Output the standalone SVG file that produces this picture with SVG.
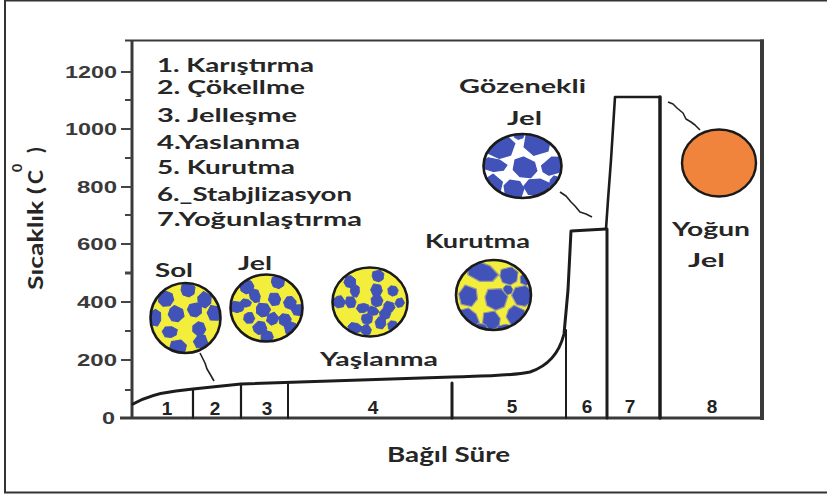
<svg xmlns="http://www.w3.org/2000/svg" xmlns:xlink="http://www.w3.org/1999/xlink" width="827" height="496" viewBox="0 0 827 496">
  <style>
    .lbl { font-family: "Lato", "Open Sans", "DejaVu Sans", sans-serif; font-weight: bold; fill: #262626; }
    .leg { font-size: 18.5px; }
    .big { font-size: 19px; }
    .tick { font-family: "Liberation Sans", Arial, sans-serif; font-weight: bold; font-size: 16px; fill: #3a3a3a; text-anchor: end; }
    .num { font-family: "Liberation Sans", Arial, sans-serif; font-weight: bold; font-size: 19px; fill: #222; text-anchor: middle; }
    .ax { stroke: #3a3a3a; fill: none; }
    .tk { stroke: #444; stroke-width: 2; }
    .ln { stroke: #1c1c1c; fill: none; stroke-linejoin: round; stroke-linecap: round; }
    .ptr { stroke: #222; stroke-width: 1.6; fill: none; stroke-linejoin: round; }
    .ring { fill: none; stroke: #1a1a1a; stroke-width: 2.6; }
    .blob { fill: #4152b8; stroke: #4152b8; stroke-width: 1; stroke-linejoin: round; }
    .dblob { fill: #4152b8; stroke: #9a9a9a; stroke-width: 0.8; stroke-linejoin: round; }
  </style>
  <defs>
    <path id="b1" d="M-7,-3 L-3,-7 L4,-6 L7,-1 L5,5 L-1,7 L-6,4 Z"/>
    <path id="b2" d="M-6,-5 L2,-7 L7,-3 L6,4 L1,7 L-5,5 L-7,0 Z"/>
    <path id="b3" d="M-8,-2 L-4,-6 L3,-5 L8,-1 L6,4 L0,6 L-6,4 Z"/>
    <path id="b4" d="M-5,-6 L3,-6 L6,0 L4,6 L-3,7 L-7,1 Z"/>
    <clipPath id="cSol"><ellipse cx="185.5" cy="318" rx="35" ry="35"/></clipPath>
    <clipPath id="cJel"><ellipse cx="266.5" cy="308" rx="36" ry="33.5"/></clipPath>
    <clipPath id="cYas"><ellipse cx="370" cy="302" rx="37.5" ry="34.5"/></clipPath>
    <clipPath id="cKur"><ellipse cx="493.5" cy="295" rx="37.5" ry="35"/></clipPath>
    <clipPath id="cGoz"><ellipse cx="522.5" cy="166" rx="39" ry="32"/></clipPath>
  </defs>

  <!-- outer frame -->
  <rect x="5" y="0.5" width="830" height="492" fill="#fff" stroke="#333" stroke-width="2"/>

  <!-- plot axes and frame -->
  <g id="axes">
    <line class="ax" x1="125" y1="40.5" x2="764" y2="40.5" stroke-width="2"/>
    <line class="ax" x1="132" y1="40" x2="132" y2="419" stroke-width="3" stroke="#5a5a5a"/>
    <line class="ax" x1="762" y1="39.5" x2="762" y2="420" stroke-width="4" stroke="#222"/>
    <line class="ax" x1="120" y1="418" x2="764" y2="418" stroke-width="3" stroke="#2a2a2a"/>
    <g class="tk">
      <line x1="121" y1="72" x2="132" y2="72"/>
      <line x1="121" y1="129" x2="132" y2="129"/>
      <line x1="121" y1="187" x2="132" y2="187"/>
      <line x1="121" y1="244" x2="132" y2="244"/>
      <line x1="121" y1="302" x2="132" y2="302"/>
      <line x1="121" y1="360" x2="132" y2="360"/>
      <line x1="125" y1="100" x2="132" y2="100"/>
      <line x1="125" y1="158" x2="132" y2="158"/>
      <line x1="125" y1="215" x2="132" y2="215"/>
      <line x1="125" y1="273" x2="132" y2="273" stroke-width="3"/>
      <line x1="125" y1="331" x2="132" y2="331"/>
      <line x1="125" y1="390" x2="132" y2="390"/>
    </g>
    <text class="tick" x="117" y="78" textLength="52" lengthAdjust="spacingAndGlyphs">1200</text>
    <text class="tick" x="117" y="135" textLength="52" lengthAdjust="spacingAndGlyphs">1000</text>
    <text class="tick" x="117" y="193" textLength="40" lengthAdjust="spacingAndGlyphs">800</text>
    <text class="tick" x="117" y="250" textLength="40" lengthAdjust="spacingAndGlyphs">600</text>
    <text class="tick" x="117" y="308" textLength="40" lengthAdjust="spacingAndGlyphs">400</text>
    <text class="tick" x="117" y="366" textLength="40" lengthAdjust="spacingAndGlyphs">200</text>
    <text class="tick" x="115" y="424" textLength="13" lengthAdjust="spacingAndGlyphs">0</text>

    <!-- axis titles -->
    <g transform="translate(43,290) rotate(-90)">
      <text class="lbl" x="0" y="0" font-size="21" textLength="103" lengthAdjust="spacingAndGlyphs">Sıcaklık (</text>
      <text class="lbl" x="106" y="0" font-size="21">C</text>
      <text class="lbl" x="118" y="-21" font-size="14">0</text>
      <text class="lbl" x="137" y="0" font-size="21">)</text>
    </g>
    <text class="lbl" x="387" y="462" font-size="20" textLength="123" lengthAdjust="spacingAndGlyphs">Bağıl Süre</text>
  </g>

  <!-- process stage legend -->
  <g id="legend">
    <text class="lbl leg" x="157" y="72" textLength="157" lengthAdjust="spacingAndGlyphs">1. Karıştırma</text>
    <text class="lbl leg" x="157" y="94" textLength="148" lengthAdjust="spacingAndGlyphs">2. Çökellme</text>
    <text class="lbl leg" x="157" y="122" textLength="140" lengthAdjust="spacingAndGlyphs">3. Jelleşme</text>
    <text class="lbl leg" x="157" y="149" textLength="143" lengthAdjust="spacingAndGlyphs">4.Yaslanma</text>
    <text class="lbl leg" x="157" y="174" textLength="138" lengthAdjust="spacingAndGlyphs">5. Kurutma</text>
    <text class="lbl leg" x="157" y="201" textLength="195" lengthAdjust="spacingAndGlyphs">6._Stabjlizasyon</text>
    <text class="lbl leg" x="157" y="226" textLength="205" lengthAdjust="spacingAndGlyphs">7.Yoğunlaştırma</text>
  </g>

  <!-- temperature profile and stage steps -->
  <g id="connectors">
    <path class="ln" stroke-width="3" d="M133,404 C145,397 160,393 176,391 L193,389 L212,387 L241,384 C285,382 360,380 452,377 C485,376 512,376 530,372 C548,366 559,354 564,334 L568,290 L571,231 L606,229"/>
    <path class="ln" stroke-width="2.6" d="M606,229 L608,200 L611,160 L615,97 L660,97"/>
    <line class="ln" x1="566" y1="330" x2="566" y2="418" stroke-width="2"/>
    <line class="ln" x1="193" y1="389" x2="193" y2="418" stroke-width="2.2"/>
    <line class="ln" x1="241" y1="384" x2="241" y2="418" stroke-width="2.2"/>
    <line class="ln" x1="288" y1="382" x2="288" y2="418" stroke-width="2"/>
    <line class="ln" x1="452" y1="383" x2="452" y2="418" stroke-width="3"/>
    <line class="ln" x1="607" y1="229" x2="607" y2="418" stroke-width="3"/>
    <line class="ln" x1="660" y1="97" x2="660" y2="418" stroke-width="3.5"/>
    <!-- pointer leaders -->
    <path class="ptr" d="M200,353 L203,359 L205,363 L207,369 L210,374 L214,381"/>
    <path class="ptr" d="M560,192 L566,196 L571,202 L575,206 L580,212 L586,214 L592,217"/>
    <path class="ptr" d="M668,102 L673,104 L677,108 L683,113 L686,119 L691,122 L695,125 L700,130"/>
  </g>

  <!-- stage numbers -->
  <g id="stage-numbers">
    <text class="num" x="167" y="415">1</text>
    <text class="num" x="215" y="415">2</text>
    <text class="num" x="267" y="415">3</text>
    <text class="num" x="373" y="414">4</text>
    <text class="num" x="512" y="413">5</text>
    <text class="num" x="587" y="413">6</text>
    <text class="num" x="630" y="413">7</text>
    <text class="num" x="712" y="413">8</text>
  </g>

  <!-- sol: dispersed particles -->
  <g id="sol">
    <text class="lbl big" x="155" y="277" textLength="38" lengthAdjust="spacingAndGlyphs">Sol</text>
    <ellipse cx="185.5" cy="318" rx="35" ry="35" fill="#f3ee3c"/>
    <g clip-path="url(#cSol)" class="blob">
      <use xlink:href="#b1" transform="translate(166,299) rotate(15) scale(1.1)"/>
      <use xlink:href="#b2" transform="translate(188,290) scale(1.0)"/>
      <use xlink:href="#b4" transform="translate(205,300) rotate(30) scale(1.1)"/>
      <use xlink:href="#b3" transform="translate(155,318) rotate(80) scale(1.05)"/>
      <use xlink:href="#b2" transform="translate(176,314) rotate(40) scale(1.1)"/>
      <use xlink:href="#b1" transform="translate(195,310) rotate(-20) scale(1.0)"/>
      <use xlink:href="#b4" transform="translate(215,313) rotate(10) scale(1.1)"/>
      <use xlink:href="#b3" transform="translate(170,332) rotate(-10) scale(0.95)"/>
      <use xlink:href="#b1" transform="translate(199,329) rotate(60) scale(0.95)"/>
      <use xlink:href="#b2" transform="translate(178,348) rotate(5) scale(1.15)"/>
      <use xlink:href="#b4" transform="translate(201,342) rotate(70) scale(1.0)"/>
    </g>
    <ellipse class="ring" cx="185.5" cy="318" rx="35" ry="35"/>
  </g>

  <!-- jel: linked network -->
  <g id="jel">
    <text class="lbl big" x="238" y="270" textLength="34" lengthAdjust="spacingAndGlyphs">Jel</text>
    <ellipse cx="266.5" cy="308" rx="36" ry="33.5" fill="#f3ee3c"/>
    <g clip-path="url(#cJel)" class="blob">
      <use xlink:href="#b1" transform="translate(247,287) scale(1.0)"/>
      <use xlink:href="#b2" transform="translate(278,282) scale(0.95)"/>
      <use xlink:href="#b3" transform="translate(255,296) rotate(60) scale(0.9)"/>
      <use xlink:href="#b4" transform="translate(275,299) scale(0.95)"/>
      <use xlink:href="#b1" transform="translate(290,303) rotate(40) scale(0.9)"/>
      <use xlink:href="#b3" transform="translate(237,307) scale(0.95)"/>
      <use xlink:href="#b2" transform="translate(263,310) rotate(20) scale(1.0)"/>
      <use xlink:href="#b4" transform="translate(273,319) rotate(50) scale(0.9)"/>
      <use xlink:href="#b1" transform="translate(285,320) scale(0.9)"/>
      <use xlink:href="#b3" transform="translate(299,310) rotate(-10) scale(0.95)"/>
      <use xlink:href="#b2" transform="translate(260,328) rotate(-30) scale(0.95)"/>
      <use xlink:href="#b4" transform="translate(291,328) rotate(20) scale(0.95)"/>
      <use xlink:href="#b1" transform="translate(267,337) rotate(10) scale(0.9)"/>
      <use xlink:href="#b2" transform="translate(249,318) rotate(80) scale(0.8)"/>
      <use xlink:href="#b3" transform="translate(246,303) scale(0.7)"/>
    </g>
    <ellipse class="ring" cx="266.5" cy="308" rx="36" ry="33.5"/>
  </g>

  <!-- yaslanma: aged network -->
  <g id="yaslanma">
    <text class="lbl big" x="320" y="366" textLength="118" lengthAdjust="spacingAndGlyphs">Yaşlanma</text>
    <ellipse cx="370" cy="302" rx="37.5" ry="34.5" fill="#f3ee3c"/>
    <g clip-path="url(#cYas)" class="blob">
      <use xlink:href="#b1" transform="translate(350,282) rotate(30) scale(0.85)"/>
      <use xlink:href="#b2" transform="translate(378,276) scale(0.85)"/>
      <use xlink:href="#b3" transform="translate(355,291) rotate(80) scale(0.8)"/>
      <use xlink:href="#b4" transform="translate(377,290) rotate(10) scale(0.9)"/>
      <use xlink:href="#b1" transform="translate(393,291) scale(0.75)"/>
      <use xlink:href="#b2" transform="translate(339,302) rotate(70) scale(0.85)"/>
      <use xlink:href="#b4" transform="translate(351,302) scale(0.85)"/>
      <use xlink:href="#b3" transform="translate(363,308) rotate(-20) scale(0.8)"/>
      <use xlink:href="#b1" transform="translate(377,301) scale(0.85)"/>
      <use xlink:href="#b2" transform="translate(389,307) rotate(30) scale(0.8)"/>
      <use xlink:href="#b4" transform="translate(400,303) rotate(60) scale(0.7)"/>
      <use xlink:href="#b3" transform="translate(373,311) rotate(10) scale(0.75)"/>
      <use xlink:href="#b2" transform="translate(367,319) scale(0.8)"/>
      <use xlink:href="#b1" transform="translate(385,314) rotate(50) scale(0.8)"/>
      <use xlink:href="#b3" transform="translate(355,328) scale(0.9)"/>
      <use xlink:href="#b4" transform="translate(381,323) rotate(20) scale(0.85)"/>
      <use xlink:href="#b1" transform="translate(393,326) scale(0.75)"/>
      <use xlink:href="#b2" transform="translate(366,330) rotate(70) scale(0.75)"/>
    </g>
    <ellipse class="ring" cx="370" cy="302" rx="37.5" ry="34.5"/>
  </g>

  <!-- kurutma: drying -->
  <g id="kurutma">
    <text class="lbl big" x="425" y="248" textLength="105" lengthAdjust="spacingAndGlyphs">Kurutma</text>
    <ellipse cx="493.5" cy="295" rx="37.5" ry="35" fill="#f3ee3c"/>
    <g clip-path="url(#cKur)" class="dblob">
      <use xlink:href="#b3" transform="translate(482,272) rotate(15) scale(2.1,1.6)"/>
      <use xlink:href="#b2" transform="translate(509,276) scale(1.3)"/>
      <use xlink:href="#b1" transform="translate(508,290) scale(0.7)"/>
      <use xlink:href="#b4" transform="translate(469,296) rotate(20) scale(1.5)"/>
      <use xlink:href="#b2" transform="translate(496,299) rotate(10) scale(1.6)"/>
      <use xlink:href="#b1" transform="translate(523,296) rotate(-20) scale(1.5)"/>
      <use xlink:href="#b3" transform="translate(469,318) rotate(30) scale(1.4)"/>
      <use xlink:href="#b4" transform="translate(492,320) rotate(-10) scale(1.4)"/>
      <use xlink:href="#b2" transform="translate(516,316) rotate(40) scale(1.4)"/>
      <use xlink:href="#b1" transform="translate(481,331) scale(1.1)"/>
      <use xlink:href="#b3" transform="translate(505,331) rotate(-20) scale(1.2)"/>
      <use xlink:href="#b4" transform="translate(526,279) rotate(30) scale(0.9)"/>
    </g>
    <ellipse class="ring" cx="493.5" cy="295" rx="37.5" ry="35"/>
  </g>

  <!-- gozenekli jel: porous gel -->
  <g id="gozenekli-jel">
    <text class="lbl big" x="459" y="93" textLength="127" lengthAdjust="spacingAndGlyphs">Gözenekli</text>
    <text class="lbl big" x="507" y="125" textLength="35" lengthAdjust="spacingAndGlyphs">Jel</text>
    <ellipse cx="522.5" cy="166" rx="39" ry="32" fill="#fff"/>
    <g clip-path="url(#cGoz)" class="blob">
      <use xlink:href="#b2" transform="translate(499,146) rotate(10) scale(2.1,1.7)"/>
      <use xlink:href="#b4" transform="translate(538,143) rotate(-10) scale(2.0,1.6)"/>
      <use xlink:href="#b3" transform="translate(494,165) rotate(5) scale(1.6,1.1)"/>
      <use xlink:href="#b1" transform="translate(525,168) rotate(20) scale(1.7,1.4)"/>
      <use xlink:href="#b2" transform="translate(553,166) rotate(-30) scale(1.6,1.2)"/>
      <use xlink:href="#b4" transform="translate(493,186) rotate(40) scale(1.5)"/>
      <use xlink:href="#b1" transform="translate(514,190) scale(1.4)"/>
      <use xlink:href="#b3" transform="translate(537,187) rotate(-10) scale(1.6,1.4)"/>
      <use xlink:href="#b2" transform="translate(557,184) rotate(30) scale(1.1)"/>
      <use xlink:href="#b1" transform="translate(519,134) scale(0.8)"/>
    </g>
    <ellipse class="ring" cx="522.5" cy="166" rx="39" ry="32"/>
  </g>

  <!-- yogun jel: dense gel -->
  <g id="yogun-jel">
    <ellipse cx="719" cy="163" rx="37" ry="33.5" fill="#f0843c" stroke="#1a1a1a" stroke-width="2.4"/>
    <text class="lbl big" x="672" y="236" textLength="78" lengthAdjust="spacingAndGlyphs">Yoğun</text>
    <text class="lbl big" x="688" y="267" textLength="37" lengthAdjust="spacingAndGlyphs">Jel</text>
  </g>
</svg>
